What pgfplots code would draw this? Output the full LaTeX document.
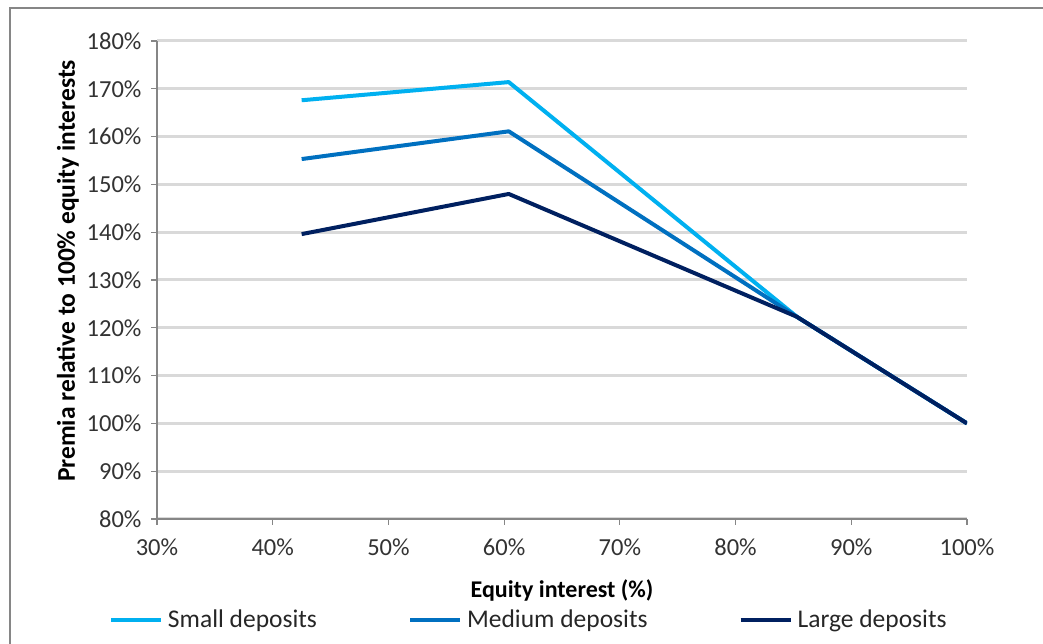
\documentclass[border=0pt]{standalone}
\usepackage{fontspec}
\setmainfont{Carlito}
\usepackage{pgfplots}
\pgfplotsset{compat=1.18}
\definecolor{cSmall}{RGB}{0,176,240}
\definecolor{cMed}{RGB}{0,112,192}
\definecolor{cLarge}{RGB}{0,32,96}
\definecolor{gridc}{RGB}{217,217,217}
\definecolor{axc}{RGB}{134,134,134}
\definecolor{framec}{RGB}{134,134,134}
\begin{document}
\begin{tikzpicture}[x=1pt,y=1pt]
\useasboundingbox (0,0) rectangle (1043,644);
\draw[framec, line width=1.5pt] (10,-5) -- (10,636) -- (1050,636);
\begin{axis}[
  at={(157pt,125pt)}, anchor=south west,
  width=810pt, height=478pt, scale only axis,
  xmin=30, xmax=100, ymin=80, ymax=180,
  xtick={30,40,...,100}, ytick={80,90,...,180},
  xticklabel={\pgfmathprintnumber{\tick}\%},
  yticklabel={\pgfmathprintnumber{\tick}\%},
  /pgf/number format/assume math mode=true,
  tick label style={font=\fontsize{24.5}{28}\selectfont, text=black!80},
  xticklabel style={yshift=-10pt},
  yticklabel style={xshift=-6pt},
  axis x line*=bottom, axis y line*=left,
  axis line style={axc, line width=1.2pt},
  tick style={axc, line width=1.2pt},
  tick align=outside, major tick length=6pt,
  ymajorgrids, grid style={gridc, line width=3pt},
  xlabel={\bfseries Equity interest (\%)},
  ylabel={\bfseries Premia relative to 100\% equity interests},
  label style={font=\fontsize{24}{28}\selectfont, text=black},
  xlabel style={at={(axis description cs:0.5,-0.149)}, anchor=center},
  ylabel style={at={(axis description cs:-0.110,0.519)}, anchor=center, font=\fontsize{25.5}{28}\selectfont},
  legend columns=3,
  legend style={at={(0.459,-0.211)}, anchor=center, draw=none, fill=none,
    font=\fontsize{25.5}{28}\selectfont, text=black!85,
    /tikz/every even column/.append style={column sep=89pt},
    inner sep=0pt},
  legend image code/.code={\draw[#1] (0pt,0pt) -- (50pt,0pt); \path (53pt,0pt);},
  every axis plot/.append style={line width=4pt, line join=round},
]
\addplot[cSmall] coordinates {(42.5,167.6) (60.4,171.4) (85.3,122.3) (100,100)};
\addlegendentry{Small deposits}
\addplot[cMed] coordinates {(42.5,155.3) (60.4,161.1) (85.3,122.3) (100,100)};
\addlegendentry{Medium deposits}
\addplot[cLarge] coordinates {(42.5,139.6) (60.4,148.0) (85.3,122.3) (100,100)};
\addlegendentry{Large deposits}
\end{axis}
\end{tikzpicture}
\end{document}
